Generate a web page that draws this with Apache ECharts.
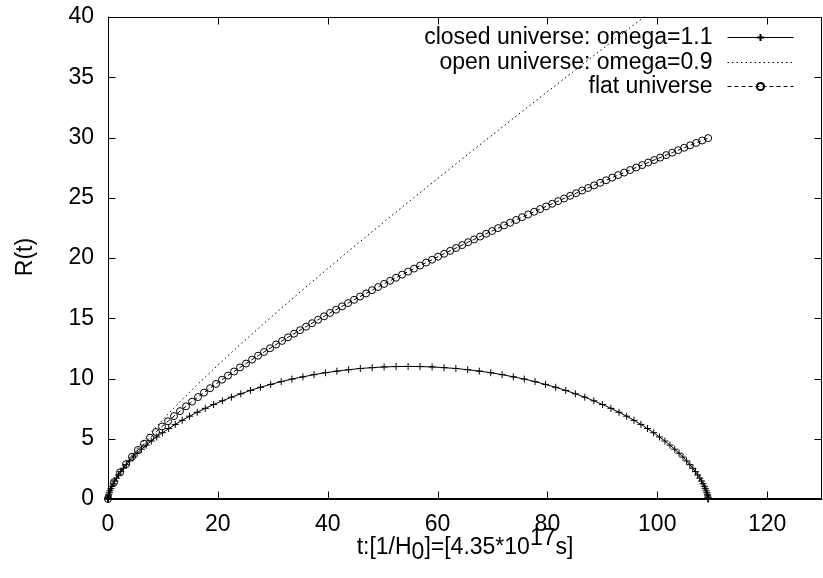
<!DOCTYPE html>
<html>
<head>
<meta charset="utf-8">
<script src="https://cdn.jsdelivr.net/npm/echarts@6/dist/echarts.min.js"></script>
<style>
html,body{margin:0;padding:0;background:#fff;overflow:hidden;}
#chart{width:823px;height:578px;}
</style>
</head>
<body>
<div id="chart"></div>
<script>
// ---- data ----
var seriesNames = ['closed universe: omega=1.1', 'open universe: omega=0.9', 'flat universe'];
var xTicks = [0, 20, 40, 60, 80, 100, 120];
var yTicks = [0, 5, 10, 15, 20, 25, 30, 35, 40];
var xMax = 130;
var xTitle = 't:[1/H{sub|0}]=[4.35*10{sup|17}s]';
var yTitle = 'R(t)';

var closedT = [0,0.00,0.01,0.02,0.05,0.09,0.15,0.24,0.36,0.52,
  0.70,0.93,1.21,1.53,1.90,2.32,2.80,3.34,3.93,4.59,
  5.31,6.10,6.96,7.88,8.87,9.93,11.05,12.25,13.51,14.85,
  16.24,17.71,19.23,20.82,22.47,24.18,25.94,27.76,29.62,31.53,
  33.49,35.49,37.52,39.59,41.68,43.80,45.94,48.10,50.27,52.46,
  54.64,
  56.82,59.01,61.18,63.34,65.48,67.60,69.69,71.76,73.79,75.79,
  77.75,79.66,81.52,83.34,85.10,86.81,88.46,90.05,91.57,93.04,
  94.43,95.77,97.03,98.23,99.35,100.41,101.40,102.32,103.18,103.97,
  104.69,105.35,105.94,106.48,106.96,107.38,107.75,108.07,108.35,108.58,
  108.76,108.92,109.04,109.13,109.19,109.23,109.26,109.27,109.28,109.28];
var closedR = [0,0.01,0.04,0.10,0.17,0.27,0.39,0.52,0.68,0.86,
  1.05,1.26,1.49,1.73,1.99,2.27,2.55,2.85,3.16,3.48,
  3.80,4.13,4.47,4.81,5.15,5.50,5.85,6.19,6.53,6.87,
  7.20,7.52,7.84,8.15,8.45,8.73,9.01,9.27,9.51,9.74,
  9.95,10.14,10.32,10.48,10.61,10.73,10.83,10.90,10.96,10.99,
  11.00,
  10.99,10.96,10.90,10.83,10.73,10.61,10.48,10.32,10.14,9.95,
  9.74,9.51,9.27,9.01,8.73,8.45,8.15,7.84,7.52,7.20,
  6.87,6.53,6.19,5.85,5.50,5.15,4.81,4.47,4.13,3.80,
  3.48,3.16,2.85,2.55,2.27,1.99,1.73,1.49,1.26,1.05,
  0.86,0.68,0.52,0.39,0.27,0.17,0.10,0.04,0.01,0];

var openT = [0,0.002,0.019,0.064,0.153,0.300,0.522,0.834,1.254,1.800,
  2.493,3.353,4.404,5.669,7.176,8.955,11.037,13.457,16.253,19.469,
  23.151,27.348,32.119,37.525,43.633,50.520,58.269,66.971,76.728,87.652,
  99.866,109.257];
var openR = [0,0.023,0.090,0.204,0.365,0.574,0.835,1.148,1.519,1.949,
  2.444,3.008,3.648,4.369,5.179,6.086,7.099,8.227,9.484,10.880,
  12.430,14.149,16.056,18.168,20.506,23.095,25.961,29.131,32.637,36.516,
  40.805,44.074];

var flatT = [0,1.09,2.19,3.28,4.37,5.46,6.56,7.65,8.74,9.84,
  10.93,12.02,13.11,14.21,15.30,16.39,17.48,18.58,19.67,20.76,
  21.86,22.95,24.04,25.13,26.23,27.32,28.41,29.51,30.60,31.69,
  32.78,33.88,34.97,36.06,37.16,38.25,39.34,40.43,41.53,42.62,
  43.71,44.80,45.90,46.99,48.08,49.18,50.27,51.36,52.45,53.55,
  54.64,55.73,56.83,57.92,59.01,60.10,61.20,62.29,63.38,64.48,
  65.57,66.66,67.75,68.85,69.94,71.03,72.12,73.22,74.31,75.40,
  76.50,77.59,78.68,79.77,80.87,81.96,83.05,84.15,85.24,86.33,
  87.42,88.52,89.61,90.70,91.80,92.89,93.98,95.07,96.17,97.26,
  98.35,99.44,100.54,101.63,102.72,103.82,104.91,106.00,107.09,108.19,
  109.28];
var flatR = [0,1.39,2.21,2.89,3.50,4.07,4.59,5.09,5.56,6.02,
  6.45,6.88,7.29,7.69,8.08,8.46,8.83,9.19,9.55,9.90,
  10.24,10.58,10.92,11.24,11.57,11.89,12.20,12.51,12.82,13.12,
  13.42,13.72,14.01,14.30,14.59,14.88,15.16,15.44,15.71,15.99,
  16.26,16.53,16.80,17.06,17.33,17.59,17.85,18.11,18.36,18.62,
  18.87,19.12,19.37,19.62,19.86,20.11,20.35,20.59,20.83,21.07,
  21.31,21.54,21.78,22.01,22.24,22.48,22.71,22.93,23.16,23.39,
  23.61,23.84,24.06,24.28,24.50,24.72,24.94,25.16,25.38,25.60,
  25.81,26.03,26.24,26.45,26.67,26.88,27.09,27.30,27.51,27.71,
  27.92,28.13,28.33,28.54,28.74,28.95,29.15,29.35,29.55,29.75,
  29.95];

function zip(a, b) { return a.map(function (v, i) { return [v, b[i]]; }); }

var FONT = '"Liberation Sans", Arial, Helvetica, sans-serif';
var FS = 23;
var yMax = yTicks[yTicks.length - 1];

var chart = echarts.init(document.getElementById('chart'), null, {renderer: 'canvas'});

var lineStyles = [
  {color: '#000', width: 1, type: 'solid'},
  {color: '#000', width: 1, type: [1.5, 3]},
  {color: '#000', width: 1, type: [4, 3]}
];

function legendFor(idx, top, hideSymbol) {
  var item = {name: seriesNames[idx]};
  if (hideSymbol) {
    item.itemStyle = {color: 'rgba(0,0,0,0)', borderColor: 'rgba(0,0,0,0)', borderWidth: 0};
  }
  return {
    data: [item],
    orient: 'vertical',
    right: 29,
    top: top,
    align: 'right',
    padding: 0,
    itemWidth: 66,
    itemHeight: 9,
    selectedMode: false,
    lineStyle: Object.assign({}, lineStyles[idx]),
    textStyle: {fontFamily: FONT, fontSize: FS, color: '#000', padding: [0, 10, 0, 0]}
  };
}

// frame + inward ticks on all four sides, placed through the chart's scales (api.coord)
function renderFrame(params, api) {
  var bl = api.coord([xTicks[0], yTicks[0]]);
  var tr = api.coord([xMax, yMax]);
  var L = Math.round(bl[0]) + 0.5, B = Math.round(bl[1]) - 0.5;
  var R = Math.round(tr[0]) - 0.5, T = Math.round(tr[1]) + 0.5;
  var st = {stroke: '#000', lineWidth: 1, fill: null};
  var kids = [
    {type: 'line', shape: {x1: L, y1: T, x2: R, y2: T}, style: st},
    {type: 'line', shape: {x1: R, y1: T, x2: R, y2: B}, style: st},
    {type: 'line', shape: {x1: L, y1: B, x2: R, y2: B}, style: st},
    {type: 'line', shape: {x1: L, y1: T, x2: L, y2: B}, style: st}
  ];
  xTicks.forEach(function (v) {
    var x = Math.round(api.coord([v, yTicks[0]])[0]) + 0.5;
    kids.push({type: 'line', shape: {x1: x, y1: B, x2: x, y2: B - 7}, style: st});
    kids.push({type: 'line', shape: {x1: x, y1: T, x2: x, y2: T + 7}, style: st});
  });
  yTicks.forEach(function (v) {
    var y = Math.round(api.coord([xTicks[0], v])[1]) + 0.5;
    kids.push({type: 'line', shape: {x1: L, y1: y, x2: L + 7, y2: y}, style: st});
    kids.push({type: 'line', shape: {x1: R, y1: y, x2: R - 7, y2: y}, style: st});
  });
  return {type: 'group', children: kids};
}

var option = {
  animation: false,
  grid: {left: 108, right: 1, top: 17, bottom: 79, containLabel: false},
  legend: [legendFor(0, 26, false), legendFor(1, 51, true), legendFor(2, 75, false)],
  xAxis: {
    type: 'value', min: xTicks[0], max: xMax, interval: 20,
    axisLine: {show: true, onZero: false, lineStyle: {color: '#000', width: 1}},
    axisTick: {show: false}, splitLine: {show: false},
    axisLabel: {color: '#000', fontSize: FS, fontFamily: FONT, margin: 14, showMaxLabel: false}
  },
  yAxis: {
    type: 'value', min: yTicks[0], max: yMax, interval: 5,
    axisLine: {show: true, onZero: false, lineStyle: {color: '#000', width: 1}},
    axisTick: {show: false}, splitLine: {show: false},
    axisLabel: {color: '#000', fontSize: FS, fontFamily: FONT, margin: 14}
  },
  graphic: [
    {
      id: 'ytitle', type: 'text', x: 26, y: 257, rotation: Math.PI / 2, silent: true,
      style: {text: yTitle, fontSize: FS, fontFamily: FONT, fill: '#000', align: 'center', verticalAlign: 'middle'}
    },
    {
      id: 'xtitle', type: 'text', x: 465, y: 548, silent: true,
      style: {
        text: xTitle, fontSize: FS, fontFamily: FONT, fill: '#000', align: 'center', verticalAlign: 'middle',
        rich: {
          sub: {fontSize: FS, fontFamily: FONT, fill: '#000', padding: [10, 0, 0, 0], verticalAlign: 'middle'},
          sup: {fontSize: FS, fontFamily: FONT, fill: '#000', padding: [0, 0, 18, 0], verticalAlign: 'top'}
        }
      }
    }
  ],
  series: [
    {
      name: seriesNames[0], type: 'line',
      data: zip(closedT, closedR),
      symbol: 'path://M4,0L4,8M0,4L8,4', symbolSize: 7, showSymbol: true,
      itemStyle: {color: 'rgba(0,0,0,0)', borderColor: '#000', borderWidth: 1},
      lineStyle: Object.assign({}, lineStyles[0]),
      emphasis: {disabled: true}, z: 3
    },
    {
      name: seriesNames[1], type: 'line',
      data: zip(openT, openR),
      symbol: 'none', showSymbol: false,
      itemStyle: {color: '#000'},
      lineStyle: Object.assign({}, lineStyles[1]),
      emphasis: {disabled: true}, clip: true, z: 2
    },
    {
      name: seriesNames[2], type: 'line',
      data: zip(flatT, flatR),
      symbol: 'circle', symbolSize: 7, showSymbol: true,
      itemStyle: {color: 'rgba(0,0,0,0)', borderColor: '#000', borderWidth: 1},
      lineStyle: Object.assign({}, lineStyles[2]),
      emphasis: {disabled: true}, z: 4
    },
    {
      name: 'frame', type: 'custom', coordinateSystem: 'cartesian2d',
      data: [[xTicks[0], yTicks[0]]],
      renderItem: renderFrame,
      clip: false, silent: true, z: 10, tooltip: {show: false}
    }
  ]
};
chart.setOption(option);
</script>
</body>
</html>
